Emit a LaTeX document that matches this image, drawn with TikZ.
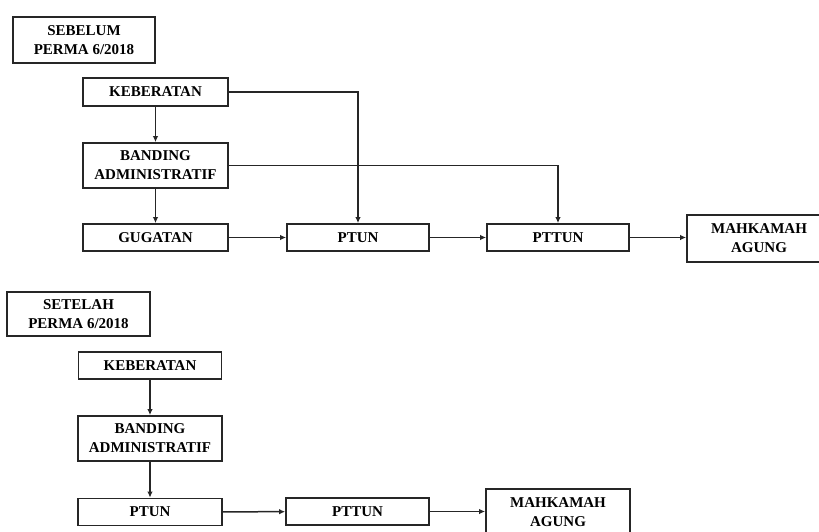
\documentclass[tikz,border=0pt]{standalone}
\usepackage{fontspec}
\setmainfont{Liberation Serif}
\usetikzlibrary{arrows.meta}
\tikzset{
  box/.style={draw=black!85, line width=1.8pt, fill=white, align=center, inner sep=0pt,
    font=\fontsize{15}{19}\selectfont\bfseries},
  conn/.style={line width=1.5pt, draw=black!85, -{Latex[length=6pt,width=5.5pt]}}
}
\begin{document}
\begin{tikzpicture}[x=1pt,y=-1pt]
\useasboundingbox (0,0) rectangle (819,531);
\clip (0,0) rectangle (819,531);
% top part
\node[box, minimum width=142pt, minimum height=46pt] (sb) at (84,40) {SEBELUM\\PERMA 6/2018};
\node[box, minimum width=145pt, minimum height=28pt] (k1) at (155.5,92) {KEBERATAN};
\node[box, minimum width=145pt, minimum height=45pt] (b1) at (155.5,165.5) {BANDING\\ADMINISTRATIF};
\node[box, minimum width=145pt, minimum height=27pt] (g1) at (155.5,237.5) {GUGATAN};
\node[box, minimum width=142pt, minimum height=27pt] (p1) at (358,237.5) {PTUN};
\node[box, minimum width=142pt, minimum height=27pt] (t1) at (558,237.5) {PTTUN};
\node[box, minimum width=144pt, minimum height=47pt] (m1) at (759,238.5) {MAHKAMAH\\AGUNG};
\draw[conn] (k1) -- (b1);
\draw[conn] (b1) -- (g1);
\draw[conn] (g1) -- (p1);
\draw[conn] (p1) -- (t1);
\draw[conn] (t1) -- (t1 -| m1.west);
\draw[conn] (k1.east) -| (p1.north);
\draw[conn] (b1.east) -| (t1.north);
% bottom part
\node[box, minimum width=143pt, minimum height=44pt] (sa) at (78.5,314) {SETELAH\\PERMA 6/2018};
\node[box, minimum width=143pt, minimum height=27pt] (k2) at (150,365.5) {KEBERATAN};
\node[box, minimum width=144pt, minimum height=45pt] (b2) at (150,438.5) {BANDING\\ADMINISTRATIF};
\node[box, minimum width=144pt, minimum height=27pt] (p2) at (150,512) {PTUN};
\node[box, minimum width=143pt, minimum height=27pt] (t2) at (357.5,511.5) {PTTUN};
\node[box, minimum width=144pt, minimum height=47pt] (m2) at (558,512.5) {MAHKAMAH\\AGUNG};
\draw[conn] (k2) -- (b2);
\draw[conn] (b2) -- (p2);
\draw[conn] (p2) -- (t2);
\draw[conn] (t2) -- (t2 -| m2.west);
\end{tikzpicture}
\end{document}
